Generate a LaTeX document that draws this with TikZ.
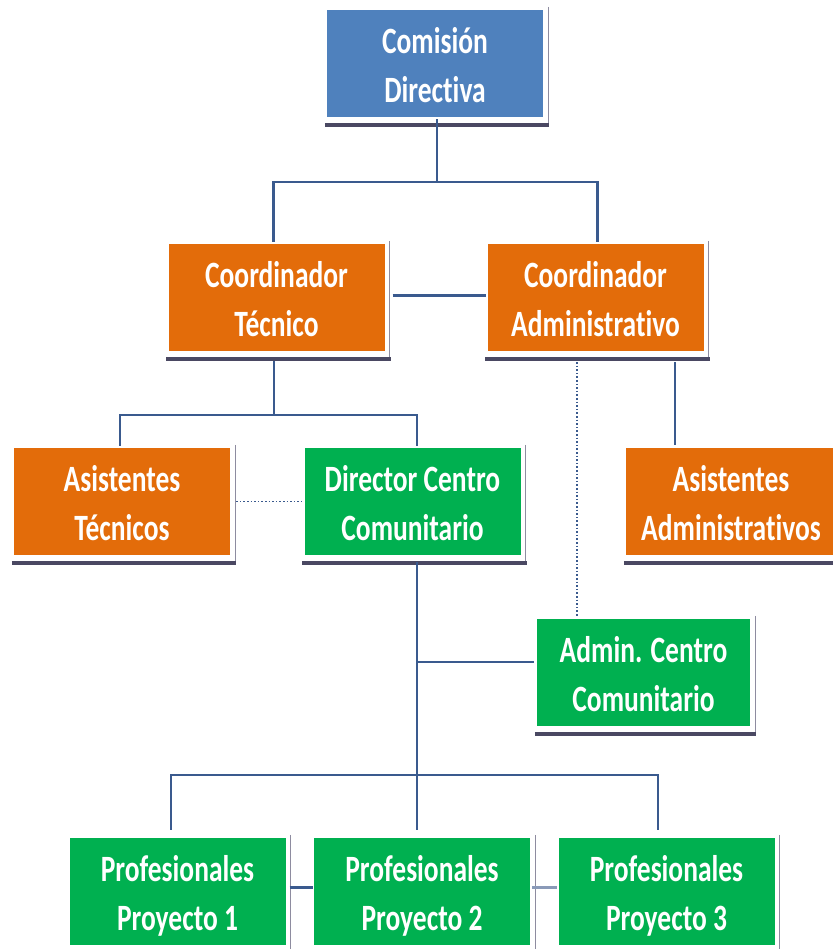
\documentclass[tikz,border=0pt]{standalone}
\usepackage{fontspec}
\usepackage{graphicx}
\setmainfont{Carlito}[Ligatures={NoCommon,NoContextual},Contextuals=NoAlternate]
\definecolor{cdblue}{HTML}{4F81BD}
\definecolor{corange}{HTML}{E36C0A}
\definecolor{cgreen}{HTML}{00B050}
\definecolor{lineblue}{HTML}{3A5A8E}
\definecolor{lightlink}{HTML}{8A9AB8}
\definecolor{shadowdark}{HTML}{4A4862}
\definecolor{shadowlight}{HTML}{8E8CA0}
\newcommand\lbl[1]{\raisebox{0pt}[\dimexpr\height+9pt\relax][\depth]{\scalebox{1}[1.35]{\fontsize{27.5}{36}\selectfont\bfseries\begin{tabular}{@{}c@{}}#1\end{tabular}}}}
\tikzset{
  orgbox/.style={draw=none, text=white, minimum width=216pt, minimum height=107pt, inner sep=0pt, align=center},
  conn/.style={draw=lineblue, line width=2.6pt},
  dotconn/.style={draw=lineblue, line width=1.6pt, dotted},
  lightconn/.style={draw=lightlink, line width=3.5pt},
}
\begin{document}
\begin{tikzpicture}[x=1pt,y=-1pt]
\useasboundingbox (0,0) rectangle (832,949);
\fill[white] (0,0) rectangle (832,949);
% nodes
\node[orgbox, fill=cdblue] (cd) at (435,63.5) {\lbl{Comisión\\Directiva}};
\node[orgbox, fill=corange] (ct) at (276.5,297.5) {\lbl{Coordinador\\Técnico}};
\node[orgbox, fill=corange] (ca) at (595.5,297.5) {\lbl{Coordinador\\Administrativo}};
\node[orgbox, fill=corange] (at) at (122,501.5) {\lbl{Asistentes\\Técnicos}};
\node[orgbox, fill=cgreen] (dcc) at (412.5,501.5) {\lbl{Director Centro\\Comunitario}};
\node[orgbox, fill=corange, minimum width=210pt] (aa) at (731,501.5) {\lbl{Asistentes\\Administrativos}};
\node[orgbox, fill=cgreen, minimum width=213pt] (acc) at (643.5,672.5) {\lbl{Admin. Centro\\Comunitario}};
\node[orgbox, fill=cgreen] (p1) at (177.5,891.5) {\lbl{Profesionales\\Proyecto 1}};
\node[orgbox, fill=cgreen] (p2) at (422,891.5) {\lbl{Profesionales\\Proyecto 2}};
\node[orgbox, fill=cgreen] (p3) at (666.5,891.5) {\lbl{Profesionales\\Proyecto 3}};
% shadows
\foreach \n in {cd,ct,ca,at,dcc,aa,acc,p1,p2,p3}{
  \draw[shadowlight, line width=1.4pt] ([xshift=5pt,yshift=3pt]\n.north east) -- ([xshift=5pt,yshift=-9pt]\n.south east);
  \draw[shadowdark, line width=3.8pt] ([xshift=-2pt,yshift=-8pt]\n.south west) -- ([xshift=6pt,yshift=-8pt]\n.south east);
}
% junction coordinates
\coordinate (j0) at (437,182);
\coordinate (j1) at (274,415);
\coordinate (caR) at (675,362);
\coordinate (caD) at (577,362);
\coordinate (dccB) at (417,562);
\coordinate (br) at (417,662);
\coordinate (h1) at (171,775);
\coordinate (h2) at (417,775);
\coordinate (h3) at (658,775);
% connectors
\draw[conn] ([xshift=2pt,yshift=-2pt]cd.south) -- (j0);
\draw[conn] ([xshift=-3pt,yshift=2pt]ct.north) -- ([xshift=-3pt]ct.north |- j0) -- ([xshift=2pt]ca.north |- j0) -- ([xshift=2pt,yshift=2pt]ca.north);
\draw[conn] ([xshift=8pt,yshift=2pt]ct.east) -- ([xshift=-1pt,yshift=2pt]ca.west);
\draw[conn] ([yshift=-10pt]j1 |- ct.south) -- (j1);
\draw[conn] ([xshift=-2pt,yshift=2pt]at.north) -- ([xshift=-2pt]at.north |- j1) -- ([xshift=4.5pt]dcc.north |- j1) -- ([xshift=4.5pt,yshift=2pt]dcc.north);
\draw[dotconn] ([xshift=6pt]at.east) -- ([xshift=-2pt]dcc.west);
\draw[conn] (caR) -- ([yshift=3pt]caR |- aa.north);
\draw[dotconn] (caD) -- ([yshift=3pt]caD |- acc.north);
\draw[conn] (dccB) -- (h2) -- ([yshift=8pt]h2 |- p2.north);
\draw[conn] (br) -- ([xshift=-3pt]br -| acc.west);
\draw[conn] ([yshift=8pt]h1 |- p1.north) -- (h1) -- (h3) -- ([yshift=8pt]h3 |- p3.north);
\draw[conn] ([xshift=4pt,yshift=4pt]p1.east) -- ([xshift=-1pt,yshift=4pt]p2.west);
\draw[lightconn] ([xshift=2pt,yshift=4pt]p2.east) -- ([xshift=-1pt,yshift=4pt]p3.west);
\end{tikzpicture}
\end{document}
